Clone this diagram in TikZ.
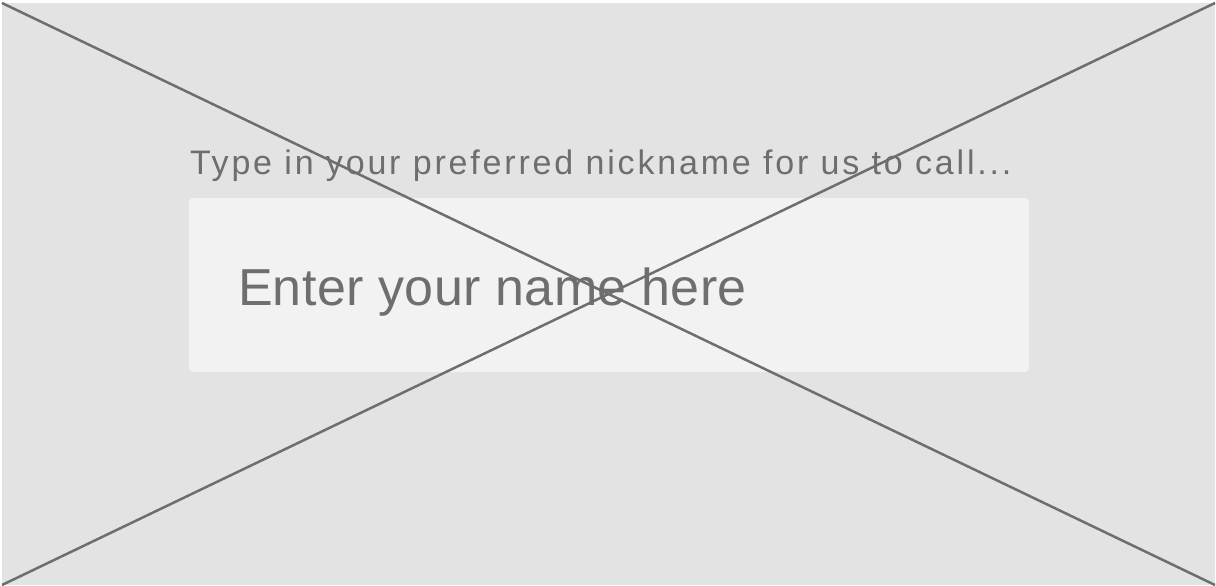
\documentclass[tikz,border=0pt]{standalone}
\usepackage{fontspec}
\setmainfont{Liberation Sans}
\usepackage{tikz}
\usetikzlibrary{positioning}

\definecolor{framegray}{HTML}{E3E3E3}
\definecolor{fieldgray}{HTML}{F2F2F2}
\definecolor{inkgray}{HTML}{6E6E6E}

\begin{document}
\begin{tikzpicture}[x=1pt, y=-1pt, inner sep=0pt, outer sep=0pt]
                    \useasboundingbox (0,0) rectangle (1216,586);
                    \node[fill=framegray, minimum width=1213pt, minimum height=582pt] (frame) at (608.5,294) {};
                    \node[fill=fieldgray, rounded corners=4pt, minimum width=840pt, minimum height=174pt] (field) at (609,285) {};
                    \node[anchor=base west, text=inkgray, font=\fontsize{34}{34}\selectfont\addfontfeatures{LetterSpace=8.3}] (label) at (190,174) {Type in your preferred nickname for us to call...};
                    \node[anchor=base west, text=inkgray, font=\fontsize{52}{52}\selectfont\addfontfeatures{LetterSpace=0.7}] (hint) at (238,305.5) {Enter your name here};
                    
                    \draw[inkgray, line width=2.5pt] (frame.north west) -- (frame.south east);
                    \draw[inkgray, line width=2.5pt] (frame.south west) -- (frame.north east);
                \end{tikzpicture}
\end{document}
